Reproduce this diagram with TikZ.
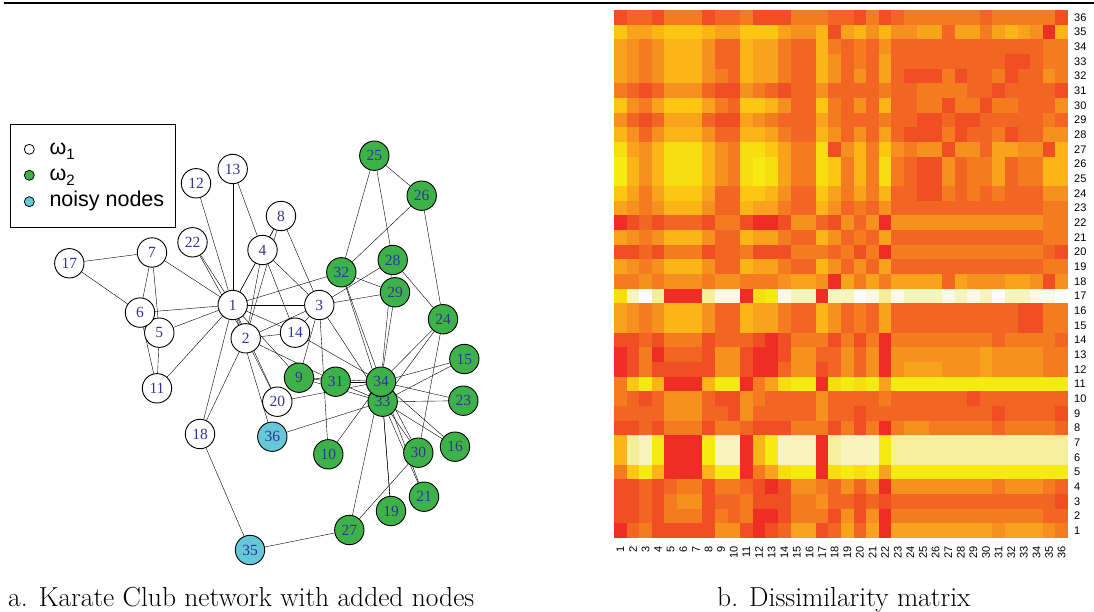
\documentclass[tikz,border=0pt]{standalone}
\usepackage{fontspec}
\newfontfamily\lsans{Liberation Sans}
\newfontfamily\lserif{Liberation Serif}
\usetikzlibrary{backgrounds}
\definecolor{vgreen}{RGB}{61,178,73}
\definecolor{vcyan}{RGB}{101,200,215}
\definecolor{vlabel}{RGB}{51,51,153}
\definecolor{hm0}{RGB}{238,45,36}
\definecolor{hm1}{RGB}{240,78,35}
\definecolor{hm2}{RGB}{242,101,34}
\definecolor{hm3}{RGB}{244,123,32}
\definecolor{hm4}{RGB}{246,144,30}
\definecolor{hm5}{RGB}{248,163,27}
\definecolor{hm6}{RGB}{251,181,23}
\definecolor{hm7}{RGB}{252,198,18}
\definecolor{hm8}{RGB}{248,222,16}
\definecolor{hm9}{RGB}{245,235,18}
\definecolor{hma}{RGB}{245,238,154}
\definecolor{hmb}{RGB}{248,244,192}
\definecolor{hmc}{RGB}{252,250,230}
\definecolor{hmd}{RGB}{255,255,255}

\begin{document}
\begin{tikzpicture}[x=1pt, y=-1pt,
    vtx/.style={circle, draw, line width=0.9pt, minimum size=29.4pt, inner sep=0pt, fill=white, text=vlabel, font=\lserif\fontsize{15.5}{15.5}\selectfont},
    grn/.style={vtx, fill=vgreen},
    noisy/.style={vtx, fill=vcyan},
    lgd/.style={circle, draw, line width=0.8pt, minimum size=10pt, inner sep=0pt},
    lgdtxt/.style={anchor=base west, inner sep=0pt, font=\lsans\fontsize{21.5}{22}\selectfont},
    hmtick/.style={inner sep=0pt, font=\lsans\fontsize{11}{11}\selectfont},
    captxt/.style={anchor=base west, inner sep=0pt, font=\fontsize{27.5}{32}\selectfont}]
  \useasboundingbox (0,0) rectangle (1094,612);
  \draw[line width=2pt] (4,3.5) -- (1094,3.5);

  \foreach \i/\x/\y in {1/232.7/305, 2/245.7/338.3, 3/319.3/305, 4/262.5/250,
      5/159.3/332.7, 6/140/312.6, 7/152/252.5, 8/281/216, 11/157/388.3,
      12/196/183.3, 13/232.7/169, 14/295/332.7, 17/69.3/263.3, 18/200/434,
      20/277.3/401.7, 22/192.5/242.3}
    \node[vtx] (n\i) at (\x,\y) {\i};
  \foreach \i/\x/\y in {9/299/377.7, 10/328.3/454.3, 15/464.3/359, 16/455/446.7,
      19/391/511, 21/424/496.7, 23/463.3/400.7, 24/443/319.2, 25/374.3/155.7,
      26/421.7/195.7, 27/349.3/530, 28/392.7/260, 29/395/292.3, 30/418.3/452.7,
      31/335.7/381.7, 32/341.3/272.3, 33/382.7/401.7, 34/381/381.7}
    \node[grn] (n\i) at (\x,\y) {\i};
  \node[noisy] (n35) at (250,550) {35};
  \node[noisy] (n36) at (272.3,436.7) {36};

  \begin{scope}[on background layer, line width=1pt]
    \foreach \a/\b in {1/2,1/3,1/4,1/5,1/6,1/7,1/8,1/9,1/11,1/12,1/13,1/14,1/18,1/20,1/22,1/32,
        2/3,2/4,2/8,2/14,2/18,2/20,2/22,2/31,3/4,3/8,3/9,3/10,3/14,3/28,3/29,3/33,
        4/8,4/13,4/14,5/7,5/11,6/7,6/11,6/17,7/17,9/31,9/33,9/34,10/34,14/34,
        15/33,15/34,16/33,16/34,19/33,19/34,20/34,21/33,21/34,23/33,23/34,
        24/26,24/28,24/30,24/33,24/34,25/26,25/28,25/32,26/32,27/30,27/34,28/34,
        29/32,29/34,30/33,30/34,31/33,31/34,32/33,32/34,33/34,
        35/18,35/27,36/1,36/33}
      \draw (n\a) -- (n\b);
  \end{scope}

  \draw[line width=0.9pt] (10.7,124.3) rectangle (175.3,227.7);
  \node[lgd, fill=white] (lg1) at (29.3,149.3) {};
  \node[lgd, fill=vgreen] (lg2) at (29.3,175.3) {};
  \node[lgd, fill=vcyan] (lg3) at (29.3,201.7) {};
  \node[lgdtxt] (lt1) at (49.3,154.3) {ω\raisebox{-5pt}{\fontsize{15}{15}\selectfont 1}};
  \node[lgdtxt] (lt2) at (49.3,180.5) {ω\raisebox{-5pt}{\fontsize{15}{15}\selectfont 2}};
  \node[lgdtxt] (lt3) at (49.3,206.7) {noisy nodes};

  \foreach \row [count=\ri] in {
      {1,2,2,1,3,3,3,1,2,2,3,1,1,1,3,3,3,2,2,1,3,1,2,3,3,3,3,3,3,2,3,3,3,3,3,1},
      {7,5,5,6,7,7,7,6,5,5,7,7,7,5,4,4,6,1,5,6,4,6,4,4,5,5,2,5,5,3,5,6,5,4,0,6},
      {5,4,3,4,6,6,6,4,2,2,6,5,5,3,2,2,6,3,2,3,2,4,2,2,2,2,2,2,2,2,2,2,2,2,3,3},
      {5,4,3,4,6,6,6,4,2,2,6,5,5,3,2,2,6,4,2,3,2,5,2,2,2,2,2,2,2,2,2,1,1,2,3,3},
      {5,4,3,4,6,6,6,4,3,2,6,5,5,3,2,2,6,4,2,4,2,5,2,1,1,1,3,1,2,2,3,1,2,2,4,3},
      {3,2,1,2,4,4,4,2,1,1,4,3,2,1,2,2,4,2,2,2,2,3,2,2,3,3,3,3,2,2,1,2,2,2,2,1},
      {7,4,3,5,7,7,7,5,3,2,7,7,6,4,2,2,7,3,2,4,2,6,2,2,3,3,1,3,3,1,3,3,2,2,2,4},
      {4,2,1,2,5,5,5,2,1,1,5,4,3,2,2,2,5,3,2,2,2,3,2,2,1,1,2,1,1,2,2,2,2,2,3,2},
      {6,4,2,4,6,6,6,4,2,2,6,6,5,3,2,2,6,4,2,4,2,5,2,1,1,1,3,1,2,2,3,1,2,2,4,4},
      {8,5,4,6,8,8,8,6,4,3,8,8,7,5,3,3,8,1,4,6,3,7,4,3,4,4,1,4,4,2,5,5,4,4,1,6},
      {9,6,4,6,8,8,8,6,4,3,8,9,8,5,3,3,8,7,3,6,3,8,3,2,1,1,4,2,3,3,5,2,3,3,6,6},
      {9,6,4,6,8,8,8,6,4,3,8,9,8,5,3,3,8,7,3,6,3,8,3,2,1,1,4,2,3,3,5,2,3,3,6,6},
      {7,5,3,5,7,7,7,5,2,2,7,7,6,4,2,2,7,5,3,5,3,6,2,2,1,1,3,2,3,2,3,2,2,2,4,4},
      {5,4,3,4,6,6,6,4,2,2,6,5,5,3,2,2,6,4,2,3,2,4,2,2,2,2,2,2,2,2,2,2,2,2,3,3},
      {0,1,2,1,2,2,2,1,3,3,1,0,0,1,4,4,2,1,4,2,4,0,4,4,4,4,4,4,4,4,4,4,4,4,3,3},
      {5,4,3,4,6,6,6,4,2,2,6,5,5,3,2,2,6,4,2,3,2,5,2,2,2,2,2,2,2,2,2,2,2,2,3,3},
      {1,1,2,1,3,3,3,1,2,2,3,1,1,1,3,3,3,2,3,1,3,0,3,3,3,3,3,3,3,3,3,3,3,3,2,1},
      {5,4,3,4,6,6,6,4,2,2,6,5,5,3,2,2,6,4,2,4,2,5,2,2,2,2,2,2,2,2,2,2,2,2,3,3},
      {3,3,4,3,4,4,4,3,4,4,3,3,3,4,5,5,4,0,5,3,5,3,5,5,5,5,2,5,4,4,4,5,5,4,1,4},
      {8,b,d,a,0,0,0,a,c,c,0,8,9,c,b,b,0,b,b,d,c,a,c,b,b,b,c,b,c,b,d,b,b,c,c,d},
      {5,4,3,4,6,6,6,4,2,2,6,5,5,3,2,2,6,4,2,3,2,5,2,2,2,2,2,2,2,2,2,2,1,1,3,3},
      {5,4,3,4,6,6,6,4,2,2,6,5,5,3,2,2,6,4,2,3,2,5,2,2,2,2,2,2,2,2,2,2,1,1,3,3},
      {1,1,2,1,3,3,3,1,2,2,2,1,0,1,3,3,3,1,3,1,3,0,3,3,3,3,3,3,3,3,2,3,3,3,3,2},
      {0,1,3,0,2,2,2,1,4,4,1,0,0,1,4,4,2,2,4,2,4,0,4,4,4,4,4,4,4,5,4,4,4,4,3,3},
      {0,1,3,1,1,1,1,1,4,4,1,0,0,2,4,4,1,2,4,2,4,0,4,5,5,5,4,4,4,5,4,4,4,4,3,3},
      {3,7,9,6,0,0,0,6,9,9,0,3,5,8,9,9,0,8,9,8,9,5,9,9,9,9,9,9,9,9,9,9,9,9,9,9},
      {3,2,1,2,4,4,4,2,1,1,4,3,2,2,2,2,4,2,2,2,2,3,2,2,2,2,2,2,1,2,2,2,2,2,2,2},
      {2,2,2,2,4,4,4,2,2,1,4,2,2,2,2,2,4,2,2,1,2,2,2,2,2,2,2,2,2,2,1,2,2,2,2,1},
      {1,1,2,1,3,3,3,1,3,3,2,1,1,1,3,3,3,1,3,1,3,0,3,4,4,3,3,3,3,3,2,3,3,3,3,2},
      {6,a,b,9,0,0,0,9,b,b,0,6,9,b,b,b,0,a,b,b,b,9,a,a,a,a,a,a,a,a,a,a,a,a,a,a},
      {6,a,b,9,0,0,0,9,b,b,0,6,9,b,b,b,0,a,b,b,b,9,a,a,a,a,a,a,a,a,a,a,a,a,a,a},
      {3,7,9,6,0,0,0,6,9,9,0,3,5,8,9,9,0,8,9,8,9,5,9,9,9,9,9,9,9,9,9,9,9,9,9,9},
      {1,1,2,1,2,3,3,1,3,3,2,1,0,1,4,4,3,2,4,2,4,0,4,4,4,4,4,4,4,4,3,4,4,4,3,2},
      {1,1,2,1,3,4,4,1,2,2,3,1,1,1,3,3,4,2,2,1,2,1,2,2,2,2,2,2,2,2,2,2,2,2,2,1},
      {1,1,2,1,3,3,3,1,3,2,3,0,0,1,3,3,3,1,4,1,4,0,3,3,3,3,3,3,3,3,3,3,3,3,2,2},
      {0,2,3,1,1,1,1,1,4,4,1,0,1,2,5,5,1,2,5,2,5,0,5,5,5,5,5,5,5,5,4,5,5,5,4,3}} {
    \foreach \v [count=\ci] in \row
      \fill[hm\v] ({614+12.611*(\ci-1)},{10+14.667*(\ri-1)}) rectangle +(12.9,14.95);
  }
  \foreach \i in {1,...,36} {
    \node[hmtick, anchor=west] (ry\i) at (1074,{538-14.667*(\i-0.5)}) {\i};
    \node[hmtick, rotate=90, anchor=east] (cx\i) at ({614+12.611*(\i-0.5)},546) {\i};
  }

  \node[captxt] (capa) at (8,606) {a. Karate Club network with added nodes};
  \node[captxt] (capb) at (717,606) {b. Dissimilarity matrix};
\end{tikzpicture}
\end{document}
